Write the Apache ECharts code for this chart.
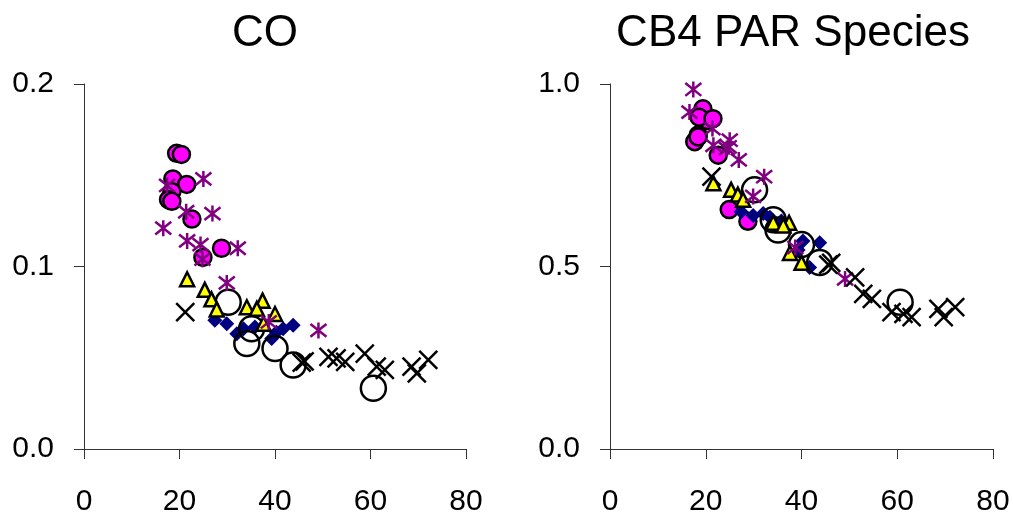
<!DOCTYPE html>
<html>
<head>
<meta charset="utf-8">
<script src="https://cdn.jsdelivr.net/npm/echarts@6/dist/echarts.min.js"></script>
<style>
html,body{margin:0;padding:0;background:#fff;}
#chart{width:1013px;height:517px;}
</style>
</head>
<body>
<div id="chart"></div>
<script>
// ---- data ----
const titles = ['CO', 'CB4 PAR Species'];
const xTicks = [0, 20, 40, 60, 80];
const coTicks = [0.0, 0.1, 0.2];
const parTicks = [0.0, 0.5, 1.0];

// magenta circles
const magX   = [19.4, 20.4, 18.6, 21.5, 18.4, 17.7, 18.4, 22.6, 24.9, 28.8];
const magCO  = [0.162, 0.1614, 0.148, 0.145, 0.141, 0.1366, 0.1357, 0.126, 0.105, 0.110];
const magPAR = [0.932, 0.90, 0.909, 0.905, 0.86, 0.842, 0.855, 0.805, 0.656, 0.624];

// purple asterisks
const astX   = [17.4, 16.6, 21.4, 21.6, 25.0, 24.8, 24.4, 26.9, 32.2, 29.9, 38.7, 49.1];
const astCO  = [0.1444, 0.121, 0.130, 0.114, 0.148, 0.104, 0.112, 0.129, 0.110, 0.091, 0.0696, 0.065];
const astPAR = [0.985, 0.923, 0.878, 0.832, 0.846, 0.828, 0.823, 0.792, 0.746, 0.692, 0.552, 0.466];

// yellow triangles
const triX   = [21.6, 25.3, 26.7, 27.8, 34.1, 37.4, 36.2, 40.0, 37.6];
const triCO  = [0.093, 0.0872, 0.082, 0.0765, 0.0777, 0.0813, 0.0768, 0.074, 0.0686];
const triPAR = [0.728, 0.71, 0.697, 0.683, 0.62, 0.62, 0.612, 0.51, 0.537];

// navy diamonds
const diaX   = [27.4, 29.9, 32.0, 33.4, 35.8, 39.3, 40.3, 41.7, 43.8];
const diaCO  = [0.0705, 0.0686, 0.0632, 0.0659, 0.0668, 0.0605, 0.0640, 0.0659, 0.0678];
const diaPAR = [0.65, 0.64, 0.645, 0.635, 0.625, 0.545, 0.57, 0.497, 0.565];

// open circles
const ocX    = [30.2, 35.1, 34.1, 40.0, 43.8, 60.6];
const ocCO   = [0.0804, 0.0659, 0.0578, 0.0551, 0.046, 0.0333];
const ocPAR  = [0.71, 0.60, 0.628, 0.56, 0.511, 0.402];

// black crosses
const crX    = [21.2, 45.6, 46.2, 51.2, 52.9, 54.7, 58.8, 61.3, 63.0, 68.6, 69.7, 72.1];
const crCO   = [0.075, 0.0473, 0.048, 0.0505, 0.0496, 0.0478, 0.0523, 0.0451, 0.0433, 0.0451, 0.0415, 0.0488];
const crPAR  = [0.746, 0.505, 0.51, 0.47, 0.425, 0.411, 0.375, 0.37, 0.361, 0.384, 0.361, 0.389];

// ---- build ----
const FONT = "'Liberation Sans', Arial, sans-serif";
const zip = (xs, ys) => xs.map((x, i) => [x, ys[i]]);

const styles = [
  {name: 'mag', x: magX, ys: [magCO, magPAR], symbol: 'circle', size: 17,
   item: {color: '#FF00FF', borderColor: '#000', borderWidth: 2.5, opacity: 1}, z: 2},
  {name: 'dia', x: diaX, ys: [diaCO, diaPAR], symbol: 'diamond', size: 15,
   item: {color: '#000080', opacity: 1}, z: 3},
  {name: 'oc', x: ocX, ys: [ocCO, ocPAR], symbol: 'circle', size: 25,
   item: {color: 'rgba(0,0,0,0)', borderColor: '#000', borderWidth: 2.5, opacity: 1}, z: 4},
  {name: 'tri', x: triX, ys: [triCO, triPAR], symbol: 'triangle', size: 14,
   item: {color: '#FFFF00', borderColor: '#000', borderWidth: 2.5, opacity: 1}, z: 5},
  {name: 'ast', x: astX, ys: [astCO, astPAR], symbol: 'path://M1,1L9,9M9,1L1,9M5,0L5,10', size: 16,
   item: {color: 'none', borderColor: '#800080', borderWidth: 2.5, opacity: 1}, z: 6},
  {name: 'cr', x: crX, ys: [crCO, crPAR], symbol: 'path://M0,0L10,10M10,0L0,10', size: 18,
   item: {color: 'none', borderColor: '#000', borderWidth: 2.5, opacity: 1}, z: 7}
];

const series = [];
[0, 1].forEach(p => {
  styles.forEach(s => {
    series.push({
      type: 'scatter', name: s.name + p,
      xAxisIndex: p, yAxisIndex: p,
      data: zip(s.x, s.ys[p]),
      symbol: s.symbol, symbolSize: s.size,
      itemStyle: s.item, z: s.z,
      emphasis: {disabled: true}
    });
  });
});

const axisLine = {show: true, onZero: false, lineStyle: {color: '#333', width: 1}};
const axisTick = {show: true, inside: false, length: 10, lineStyle: {color: '#333', width: 1}};
const labelStyle = {color: '#000', fontFamily: FONT, fontSize: 30};

function xAxis(i) {
  return {type: 'value', gridIndex: i, min: xTicks[0], max: xTicks[xTicks.length - 1],
    interval: xTicks[1] - xTicks[0], axisLine, axisTick, splitLine: {show: false},
    axisLabel: Object.assign({margin: 38}, labelStyle)};
}
function yAxis(i, ticks) {
  return {type: 'value', gridIndex: i, min: ticks[0], max: ticks[ticks.length - 1],
    interval: ticks[1] - ticks[0], axisLine, axisTick, splitLine: {show: false},
    axisLabel: Object.assign({margin: 30, padding: [5, 0, 0, 0], formatter: v => v.toFixed(1)}, labelStyle)};
}

const option = {
  animation: false,
  backgroundColor: '#fff',
  grid: [
    {left: 84, top: 84, width: 382, height: 369},
    {left: 610, top: 84, width: 383, height: 369}
  ],
  xAxis: [xAxis(0), xAxis(1)],
  yAxis: [yAxis(0, coTicks), yAxis(1, parTicks)],
  graphic: [
    {type: 'text', x: 265, y: 34, style: {text: titles[0], fill: '#000', font: '44px ' + FONT, textAlign: 'center', textVerticalAlign: 'middle'}},
    {type: 'text', x: 793, y: 34, style: {text: titles[1], fill: '#000', font: '44px ' + FONT, textAlign: 'center', textVerticalAlign: 'middle'}}
  ],
  series
};

const chart = echarts.init(document.getElementById('chart'), null, {renderer: 'canvas'});
chart.setOption(option);
</script>
</body>
</html>
